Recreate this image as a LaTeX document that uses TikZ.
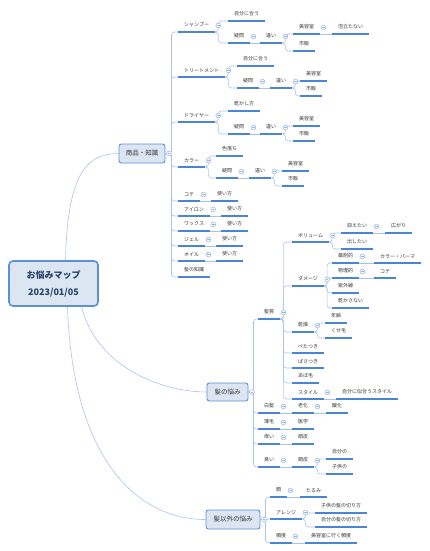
\documentclass[tikz,border=0pt]{standalone}
\usepackage{fontspec}
\setmainfont{Noto Sans CJK JP}
\usetikzlibrary{calc}
\definecolor{ulc}{HTML}{4A84D4}
\definecolor{cnc}{HTML}{A7C3EC}
\definecolor{tgc}{HTML}{93B4E4}
\definecolor{boxc}{HTML}{DCE6F3}
\definecolor{boxd}{HTML}{5B8FD8}
\definecolor{txc}{HTML}{333333}
\definecolor{rootc}{HTML}{2B4468}
\tikzset{
  ul/.style={draw=ulc,line width=1.3pt},
  cn/.style={draw=cnc,line width=0.6pt,rounded corners=3pt},
  tp/.style={anchor=south west,inner xsep=6pt,inner ysep=4.5pt,text=txc,font=\fontsize{5}{6}\selectfont,
    append after command={(\tikzlastnode.south west) edge[ul] (\tikzlastnode.south east)}},
  tg/.style={circle,draw=tgc,fill=white,line width=0.5pt,minimum size=4.8pt,inner sep=0pt,
    path picture={\draw[tgc,line width=0.5pt] ([xshift=-1.3pt]path picture bounding box.center)--([xshift=1.3pt]path picture bounding box.center);}},
  mbox/.style={rounded corners=2.5pt,draw=boxd,line width=0.9pt,fill=boxc,text=txc,font=\fontsize{6.5}{8}\selectfont,inner sep=0pt},
  rbox/.style={rounded corners=4pt,draw=boxd,line width=1.6pt,fill=boxc,text=rootc,font=\bfseries\fontsize{9}{17}\selectfont,align=center,inner sep=0pt}
}
\newcommand{\topic}[4]{\node[tp] (#1) at (#2,#3) {#4};}
\newcommand{\tgl}[1]{\node[tg] (#1t) at ([xshift=3pt,yshift=6.5pt]#1.south east) {};}

\begin{document}
\begin{tikzpicture}[x=1pt,y=-1pt]
\useasboundingbox (0,0) rectangle (430,551);
% root and main boxes
\node[rbox,minimum width=89pt,minimum height=45pt] (root) at (53.5,283.5) {お悩みマップ\\2023/01/05};
\node[mbox,minimum width=46pt,minimum height=19pt] (b1) at (142,153.5) {商品・知識};
\node[mbox,minimum width=41pt,minimum height=18pt] (b2) at (227.5,392) {髪の悩み};
\node[mbox,minimum width=54pt,minimum height=19pt] (b3) at (233,519.5) {髪以外の悩み};
% 商品・知識
\topic{a1}{178}{32}{シャンプー}
\topic{a1a}{228}{21}{自分に合う}
\topic{a1b}{228}{43}{疑問}
\topic{a1c}{260}{43}{違い}
\topic{a1d}{293}{34}{美容室}
\topic{a1e}{332}{34}{泡立たない}
\topic{a1f}{293}{51}{市販}
\topic{a2}{178}{77}{トリートメント}
\topic{a2a}{237}{66}{自分に合う}
\topic{a2b}{237}{88}{疑問}
\topic{a2c}{270}{88}{違い}
\topic{a2d}{300}{81}{美容室}
\topic{a2f}{300}{96}{市販}
\topic{a3}{178}{122}{ドライヤー}
\topic{a3a}{228}{111}{乾かし方}
\topic{a3b}{228}{134}{疑問}
\topic{a3c}{260}{134}{違い}
\topic{a3d}{293}{126}{美容室}
\topic{a3f}{293}{141}{市販}
\topic{a4}{178}{167}{カラー}
\topic{a4a}{216}{156}{色落ち}
\topic{a4b}{216}{178}{疑問}
\topic{a4c}{249}{178}{違い}
\topic{a4d}{282}{171}{美容室}
\topic{a4f}{282}{186}{市販}
\topic{a5}{178}{201}{コテ}
\topic{a5a}{211}{201}{使い方}
\topic{a6}{178}{216}{アイロン}
\topic{a6a}{221}{216}{使い方}
\topic{a7}{178}{231}{ワックス}
\topic{a7a}{221}{231}{使い方}
\topic{a8}{178}{246}{ジェル}
\topic{a8a}{216}{246}{使い方}
\topic{a9}{178}{261}{オイル}
\topic{a9a}{216}{261}{使い方}
\topic{a10}{178}{277}{髪の知識}
% 髪の悩み
\topic{h1}{258}{319}{髪質}
\topic{h1a}{292}{242}{ボリューム}
\topic{h1a1}{341}{233}{抑えたい}
\topic{h1a2}{385}{233}{広がり}
\topic{h1a3}{341}{249}{出したい}
\topic{h1b}{292}{286}{ダメージ}
\topic{h1b1}{332}{263}{薬剤的}
\topic{h1b2}{374}{263}{カラー・パーマ}
\topic{h1b3}{332}{278}{物理的}
\topic{h1b4}{374}{278}{コテ}
\topic{h1b5}{332}{293}{紫外線}
\topic{h1b6}{332}{308}{乾かさない}
\topic{h1c}{292}{332}{乾燥}
\topic{h1c1}{325}{323}{年齢}
\topic{h1c2}{325}{338}{くせ毛}
\topic{h1d}{292}{353}{ぺたつき}
\topic{h1e}{292}{368}{ぱさつき}
\topic{h1f}{292}{383}{あほ毛}
\topic{h1g}{292}{399}{スタイル}
\topic{h1g1}{336}{399}{自分に似合うスタイル}
\topic{h2}{258}{413}{白髪}
\topic{h2a}{292}{413}{老化}
\topic{h2b}{326}{413}{酸化}
\topic{h3}{258}{429}{薄毛}
\topic{h3a}{292}{429}{医学}
\topic{h4}{258}{444}{痒い}
\topic{h4a}{292}{444}{頭皮}
\topic{h5}{258}{467}{臭い}
\topic{h5a}{292}{467}{頭皮}
\topic{h5b}{326}{459}{自分の}
\topic{h5c}{326}{474}{子供の}
% 髪以外の悩み
\topic{k1}{270}{497}{顔}
\topic{k1a}{300}{497}{たるみ}
\topic{k2}{270}{519}{アレンジ}
\topic{k2a}{315}{513}{子供の髪の切り方}
\topic{k2b}{315}{527}{自分の髪の切り方}
\topic{k3}{270}{543}{頻度}
\topic{k3a}{305}{543}{美容室に行く頻度}
% connectors
\draw[cn] ([xshift=12pt]root.north) .. controls +(2,-90) and +(-30,0) .. (b1.west);
\draw[cn] ([xshift=28pt]root.south) .. controls +(15,60) and +(-45,0) .. (b2.west);
\draw[cn] ([xshift=14pt]root.south) .. controls +(5,150) and +(-70,0) .. (b3.west);
\foreach \c in {a1,a2,a3,a4,a5,a6,a7,a8,a9,a10}{\draw[cn] (b1.east) -- ++(6,0) |- (\c.south west);}
\foreach \c in {h1,h2,h3,h4,h5}{\draw[cn] (b2.east) -- ++(5,0) |- (\c.south west);}
\foreach \c in {k1,k2,k3}{\draw[cn] (b3.east) -- ++(5,0) |- (\c.south west);}
\foreach \p/\c in {a1/a1a,a1/a1b,a1c/a1d,a1c/a1f,a2/a2a,a2/a2b,a2c/a2d,a2c/a2f,
  a3/a3a,a3/a3b,a3c/a3d,a3c/a3f,a4/a4a,a4/a4b,a4c/a4d,a4c/a4f,
  h1/h1a,h1/h1b,h1/h1c,h1/h1d,h1/h1e,h1/h1f,h1/h1g,h1a/h1a1,h1a/h1a3,
  h1b/h1b1,h1b/h1b3,h1b/h1b5,h1b/h1b6,h1c/h1c1,h1c/h1c2,h5a/h5b,h5a/h5c,k2/k2a,k2/k2b}
  {\draw[cn] (\p.south east) -- ++(3,0) |- (\c.south west);}
\foreach \p/\c in {a1b/a1c,a1d/a1e,a2b/a2c,a3b/a3c,a4b/a4c,a5/a5a,a6/a6a,a7/a7a,a8/a8a,a9/a9a,
  h1a1/h1a2,h1b1/h1b2,h1b3/h1b4,h1g/h1g1,h2/h2a,h2a/h2b,h3/h3a,h4/h4a,h5/h5a,k1/k1a,k3/k3a}
  {\draw[cn] (\p.south east) -- (\c.south west);}
% toggles
\foreach \b in {b1,b2,b3}{\node[tg] (\b t) at ([xshift=3.5pt]\b.east) {};}
\foreach \p in {a1,a1b,a1c,a1d,a2,a2b,a2c,a3,a3b,a3c,a4,a4b,a4c,a5,a6,a7,a8,a9,
  h1,h1a,h1a1,h1b,h1b1,h1b3,h1c,h1g,h2,h2a,h3,h4,h5,h5a,k1,k2,k3}{\tgl{\p}}
\end{tikzpicture}
\end{document}
